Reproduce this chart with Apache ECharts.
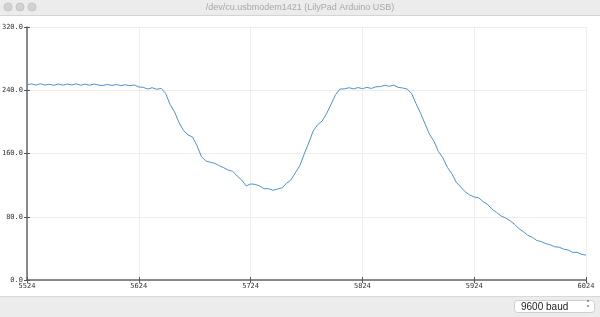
<!DOCTYPE html>
<html>
<head>
<meta charset="utf-8">
<script src="https://cdn.jsdelivr.net/npm/echarts@6/dist/echarts.min.js"></script>
<style>
html,body{margin:0;padding:0;background:#fff;}
#c{width:600px;height:317px;}
</style>
</head>
<body>
<div id="c"></div>
<script>
// Serial plotter samples, one every 4 counts starting at 5524
var sampleStart = 5524;
var sampleStep = 4;
var values = [
247.0,248.0,246.5,248.2,246.6,247.6,246.2,247.9,246.5,247.8,
246.7,248.1,246.4,247.7,246.3,247.9,246.6,246.0,247.4,246.1,
247.2,245.9,246.9,245.8,246.6,244.2,243.6,241.6,243.2,241.2,
242.4,236.0,222.0,212.5,199.0,189.0,183.5,181.0,170.0,156.0,
150.5,149.0,147.5,144.5,142.0,139.0,137.5,131.5,126.5,119.0,
121.5,121.0,119.0,115.5,115.5,113.5,115.0,116.5,122.0,126.5,
135.5,144.5,159.5,173.5,188.5,196.5,201.0,210.5,222.5,234.5,
241.5,241.8,243.2,241.7,243.4,242.0,243.6,242.3,244.4,244.6,
246.3,245.0,246.4,243.6,242.9,241.6,236.0,223.0,211.0,197.5,
184.5,175.5,162.5,154.5,142.5,134.5,123.5,117.5,111.5,107.5,
105.0,104.0,99.0,95.5,89.5,85.5,81.0,78.5,75.0,70.5,
65.0,61.0,56.5,54.0,50.0,48.5,46.0,44.5,42.0,41.5,
39.0,38.0,35.0,35.0,32.5,31.5
];
var yTicks = [0, 80, 160, 240, 320];
var windowTitle = '/dev/cu.usbmodem1421 (LilyPad Arduino USB)';
var baudLabel = '9600 baud';

var categories = values.map(function (v, i) { return String(sampleStart + i * sampleStep); });

var chart = echarts.init(document.getElementById('c'), null, {renderer: 'canvas'});
var mono = 'DejaVu Sans Mono';
var yAxisBase = {
  type: 'value', min: yTicks[0], max: yTicks[yTicks.length - 1], interval: yTicks[1] - yTicks[0]
};
chart.setOption({
  animation: false,
  grid: {left: 27, right: 14, top: 27, bottom: 37, containLabel: false, outerBoundsMode: 'none'},
  xAxis: [{
    type: 'category', data: categories, boundaryGap: false,
    axisLine: {show: true, lineStyle: {color: '#666', width: 1.5}},
    axisTick: {show: true, interval: 24, length: 3, lineStyle: {color: '#555'}},
    axisLabel: {interval: 24, fontFamily: mono, fontSize: 7, color: '#333', margin: 3},
    splitLine: {show: true, interval: 24, lineStyle: {color: '#eeeeee', width: 1}}
  }, {
    type: 'category', data: categories, boundaryGap: false, position: 'bottom',
    axisLine: {show: false},
    axisTick: {show: true, inside: true, interval: 24, length: 3, lineStyle: {color: '#555'}},
    axisLabel: {show: false}, splitLine: {show: false}
  }],
  yAxis: [Object.assign({}, yAxisBase, {
    axisLine: {show: true, lineStyle: {color: '#666', width: 1.5}},
    axisTick: {show: true, length: 3, lineStyle: {color: '#555'}},
    axisLabel: {fontFamily: mono, fontSize: 7, color: '#333', margin: 4,
      formatter: function (v) { return v.toFixed(1); }},
    splitLine: {show: true, lineStyle: {color: '#eeeeee', width: 1}}
  }), Object.assign({}, yAxisBase, {
    position: 'left',
    axisLine: {show: false},
    axisTick: {show: true, inside: true, length: 3, lineStyle: {color: '#555'}},
    axisLabel: {show: false}, splitLine: {show: false}
  })],
  series: [{
    type: 'line', data: values, xAxisIndex: 0, yAxisIndex: 0,
    showSymbol: false, symbol: 'none',
    lineStyle: {color: '#4f92cd', width: 1}
  }],
  graphic: [
    {type: 'rect', shape: {x: 0, y: 0, width: 600, height: 15}, style: {fill: '#ececec'}, silent: true},
    {type: 'line', shape: {x1: 0, y1: 15.5, x2: 600, y2: 15.5}, style: {stroke: '#d4d4d4', lineWidth: 1}},
    {type: 'circle', shape: {cx: 8, cy: 7, r: 4}, style: {fill: '#d2d2d2', stroke: '#c4c4c4'}},
    {type: 'circle', shape: {cx: 20, cy: 7, r: 4}, style: {fill: '#d2d2d2', stroke: '#c4c4c4'}},
    {type: 'circle', shape: {cx: 32, cy: 7, r: 4}, style: {fill: '#d2d2d2', stroke: '#c4c4c4'}},
    {type: 'text', x: 300, y: 7.5, style: {text: windowTitle, fill: '#a8a8a8', font: '9px "Liberation Sans", Arial, sans-serif', textAlign: 'center', textVerticalAlign: 'middle'}},
    {type: 'rect', shape: {x: 0, y: 296, width: 600, height: 21}, style: {fill: '#ececec'}},
    {type: 'line', shape: {x1: 0, y1: 296.5, x2: 600, y2: 296.5}, style: {stroke: '#d8d8d8', lineWidth: 1}},
    {type: 'rect', shape: {x: 514.5, y: 300.5, width: 80, height: 12, r: 3}, style: {fill: '#ffffff', stroke: '#cfcfcf', lineWidth: 1}},
    {type: 'text', x: 521, y: 307, style: {text: baudLabel, fill: '#222', font: '10px "Liberation Sans", Arial, sans-serif', textVerticalAlign: 'middle'}},
    {type: 'text', x: 588, y: 304.5, style: {text: '\u02c4', fill: '#444', font: '8px "DejaVu Sans", sans-serif', textAlign: 'center', textVerticalAlign: 'middle'}},
    {type: 'text', x: 588, y: 309.5, style: {text: '\u02c5', fill: '#444', font: '8px "DejaVu Sans", sans-serif', textAlign: 'center', textVerticalAlign: 'middle'}}
  ]
});
</script>
</body>
</html>
